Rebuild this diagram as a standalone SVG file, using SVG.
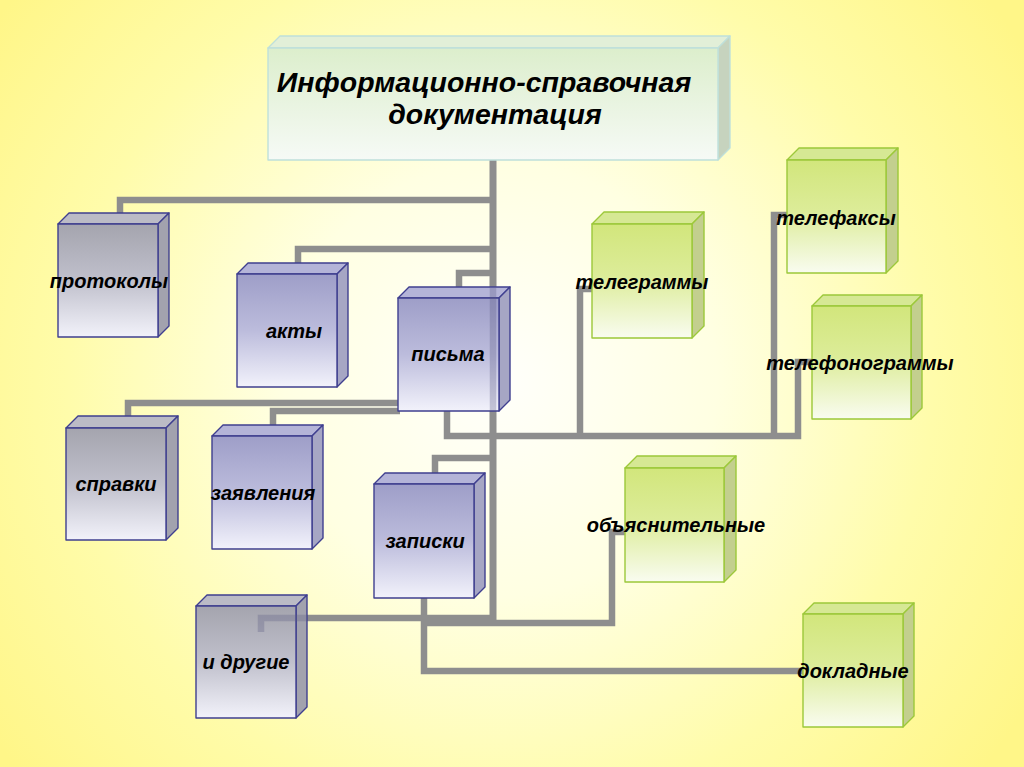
<svg xmlns="http://www.w3.org/2000/svg" width="1024" height="767" viewBox="0 0 1024 767">
<defs>
<radialGradient id="bg" cx="500" cy="380" r="620" gradientUnits="userSpaceOnUse">
<stop offset="0" stop-color="#FFFFFB"/>
<stop offset="0.35" stop-color="#FFFFE2"/>
<stop offset="0.7" stop-color="#FFFCAA"/>
<stop offset="1" stop-color="#FFF688"/>
</radialGradient>
<linearGradient id="gGray" x1="0" y1="0" x2="0" y2="1">
<stop offset="0" stop-color="#A4A4AE"/>
<stop offset="0.5" stop-color="#C0C0CC"/>
<stop offset="1" stop-color="#F2F2FA"/>
</linearGradient>
<linearGradient id="gBlue" x1="0" y1="0" x2="0" y2="1">
<stop offset="0" stop-color="#9E9EC8"/>
<stop offset="0.5" stop-color="#BCBCDC"/>
<stop offset="1" stop-color="#F2F2FB"/>
</linearGradient>
<linearGradient id="gGreen" x1="0" y1="0" x2="0" y2="1">
<stop offset="0" stop-color="#D2E67C"/>
<stop offset="0.45" stop-color="#DCEC98"/>
<stop offset="1" stop-color="#F9FCF0"/>
</linearGradient>
<linearGradient id="gTitle" x1="0" y1="0" x2="0" y2="1">
<stop offset="0" stop-color="#DCEECC"/>
<stop offset="1" stop-color="#F6FAF6"/>
</linearGradient>
<style>
.ln{fill:none;stroke:#8E8E8E;stroke-width:6.5;stroke-linejoin:miter;stroke-linecap:butt}
.thru{fill:none;stroke:#5A5A80;stroke-width:6.5;stroke-opacity:0.3;stroke-linejoin:miter}
.gray .f{fill:url(#gGray)}
.gray .t{fill:#BBBBC6}
.gray .r{fill:#A2A2AE}
.blue .f{fill:url(#gBlue)}
.blue .t{fill:#B4B4D8}
.blue .r{fill:#A6A6C4}
.gray polygon,.gray rect,.blue polygon,.blue rect{stroke:#3F3F8F;stroke-width:1.4;stroke-linejoin:round}
.green .f{fill:url(#gGreen)}
.green .t{fill:#D6E894}
.green .r{fill:#C3CF8E}
.green polygon,.green rect{stroke:#9CC83A;stroke-width:1.4;stroke-linejoin:round}
.title .f{fill:url(#gTitle)}
.title .t{fill:#E2EFD8}
.title .r{fill:#C6D3BE}
.title polygon,.title rect{stroke:#BFE0DA;stroke-width:1.4;stroke-linejoin:round}
text{font-family:"Liberation Sans",Arial,sans-serif;font-weight:bold;font-style:italic;fill:#000;text-anchor:middle}
.lb{font-size:20px}
.tt{font-size:28.5px}
</style>
</defs>
<rect width="1024" height="767" fill="url(#bg)"/>

<g id="connectors">
<path class="ln" d="M493,160 V622" style="stroke-width:7"/>
<path class="ln" d="M493,200 H120 V213"/>
<path class="ln" d="M493,249 H298 V263"/>
<path class="ln" d="M493,273 H459 V288"/>
<path class="ln" d="M400,403 H128 V417"/>
<path class="ln" d="M400,411 H273 V425"/>
<path class="ln" d="M447,411 V436 H798 V362 H812"/>
<path class="ln" d="M580,436 V289 H592"/>
<path class="ln" d="M774,436 V215 H787"/>
<path class="ln" d="M493,458 H435 V473"/>
<path class="ln" d="M493,618 H261 V632"/>
<path class="ln" d="M424,623 H612 V532 H625"/>
<path class="ln" d="M424,598 V671 H805"/>
</g>

<g id="title" class="title">
<polygon class="t" points="268,48 280,36 730,36 718,48"/>
<polygon class="r" points="718,48 730,36 730,148 718,160"/>
<rect class="f" x="268" y="48" width="450" height="112"/>
<text class="tt" x="484" y="92">Информационно-справочная</text>
<text class="tt" x="495" y="124">документация</text>
</g>

<g id="n-protokoly" class="gray">
<polygon class="t" points="58,224 69,213 169,213 158,224"/>
<polygon class="r" points="158,224 169,213 169,326 158,337"/>
<rect class="f" x="58" y="224" width="100" height="113"/>
<text class="lb" x="109" y="288">протоколы</text>
</g>

<g id="n-akty" class="blue">
<polygon class="t" points="237,274 248,263 348,263 337,274"/>
<polygon class="r" points="337,274 348,263 348,376 337,387"/>
<rect class="f" x="237" y="274" width="100" height="113"/>
<text class="lb" x="294" y="338">акты</text>
</g>

<g id="n-pisma" class="blue">
<polygon class="t" points="398,298 409,287 510,287 499,298"/>
<polygon class="r" points="499,298 510,287 510,400 499,411"/>
<rect class="f" x="398" y="298" width="101" height="113"/>
<text class="lb" x="448" y="361">письма</text>
</g>

<g id="n-spravki" class="gray">
<polygon class="t" points="66,428 78,416 178,416 166,428"/>
<polygon class="r" points="166,428 178,416 178,528 166,540"/>
<rect class="f" x="66" y="428" width="100" height="112"/>
<text class="lb" x="116" y="491">справки</text>
</g>

<g id="n-zayavleniya" class="blue">
<polygon class="t" points="212,436 223,425 323,425 312,436"/>
<polygon class="r" points="312,436 323,425 323,538 312,549"/>
<rect class="f" x="212" y="436" width="100" height="113"/>
<text class="lb" x="263" y="500">заявления</text>
</g>

<g id="n-zapiski" class="blue">
<polygon class="t" points="374,484 385,473 485,473 474,484"/>
<polygon class="r" points="474,484 485,473 485,587 474,598"/>
<rect class="f" x="374" y="484" width="100" height="114"/>
<text class="lb" x="425" y="548">записки</text>
</g>

<g id="n-drugie" class="gray">
<polygon class="t" points="196,606 207,595 307,595 296,606"/>
<polygon class="r" points="296,606 307,595 307,707 296,718"/>
<rect class="f" x="196" y="606" width="100" height="112"/>
<text class="lb" x="246" y="669">и другие</text>
</g>

<g id="n-telegrammy" class="green">
<polygon class="t" points="592,224 604,212 704,212 692,224"/>
<polygon class="r" points="692,224 704,212 704,326 692,338"/>
<rect class="f" x="592" y="224" width="100" height="114"/>
<text class="lb" x="642" y="289">телеграммы</text>
</g>

<g id="n-telefaksy" class="green">
<polygon class="t" points="787,160 799,148 898,148 886,160"/>
<polygon class="r" points="886,160 898,148 898,261 886,273"/>
<rect class="f" x="787" y="160" width="99" height="113"/>
<text class="lb" x="836" y="225">телефаксы</text>
</g>

<g id="n-telefonogrammy" class="green">
<polygon class="t" points="812,306 823,295 922,295 911,306"/>
<polygon class="r" points="911,306 922,295 922,408 911,419"/>
<rect class="f" x="812" y="306" width="99" height="113"/>
<text class="lb" x="860" y="370">телефонограммы</text>
</g>

<g id="n-obyasnitelnye" class="green">
<polygon class="t" points="625,468 637,456 736,456 724,468"/>
<polygon class="r" points="724,468 736,456 736,570 724,582"/>
<rect class="f" x="625" y="468" width="99" height="114"/>
<text class="lb" x="676" y="532">объяснительные</text>
</g>

<g id="n-dokladnye" class="green">
<polygon class="t" points="803,614 814,603 914,603 903,614"/>
<polygon class="r" points="903,614 914,603 914,716 903,727"/>
<rect class="f" x="803" y="614" width="100" height="113"/>
<text class="lb" x="853" y="678">докладные</text>
</g>

<g id="connectors-through">
<path class="thru" d="M493,288 V411"/>
<path class="thru" d="M307,618 H261 V632"/>
</g>
</svg>
